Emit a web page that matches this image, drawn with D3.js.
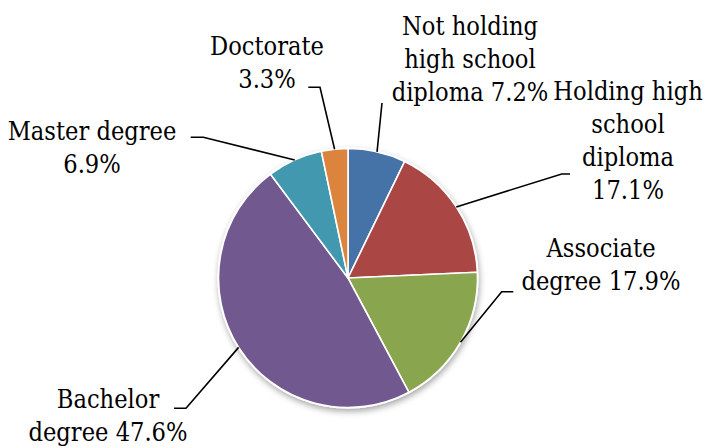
<!DOCTYPE html>
<html>
<head>
<meta charset="utf-8">
<script src="https://cdn.jsdelivr.net/npm/d3@7/dist/d3.min.js"></script>
<style>
  html, body { margin: 0; padding: 0; background: #fff; }
  svg { display: block; }
</style>
</head>
<body>
<svg id="chart" width="708" height="448"></svg>
<script>
// Education level shares (percent)
const categories = [
  "Not holding high school diploma",
  "Holding high school diploma",
  "Associate degree",
  "Bachelor degree",
  "Master degree",
  "Doctorate"
];
const values = [7.2, 17.1, 17.9, 47.6, 6.9, 3.3];
const colors = ["#4572A7", "#AA4643", "#89A54E", "#71588F", "#4198AF", "#DB843D"];

// Label text lines (value appended from the data)
const labelLines = [
  ["Not holding", "high school", "diploma " + values[0] + "%"],
  ["Holding high", "school", "diploma", values[1] + "%"],
  ["Associate", "degree " + values[2] + "%"],
  ["Bachelor", "degree " + values[3] + "%"],
  ["Master degree", values[4] + "%"],
  ["Doctorate", values[5] + "%"]
];

// Label placement: centre x, first baseline y
const labelPos = [
  [470, 35], [628, 100], [601, 257], [108, 408], [92, 140], [267, 55]
];
// Leader line start (at the label) and elbow point; the line ends on the slice edge
const leaderStart = [
  [[382, 103], [382, 103]],
  [[570, 174], [561.7, 174]],
  [[513.3, 291.7], [501.7, 291.7]],
  [[174, 408.3], [186, 408.3]],
  [[190.7, 137.3], [203.3, 137.3]],
  [[308.3, 87.3], [320, 87.3]]
];

const cx = 348, cy = 278, radius = 129.5, lineHeight = 33;
const fontFamily = "'DejaVu Serif Condensed', 'DejaVu Serif', serif";
const fontSize = 26;
const refWord = 114;   // rendered width of "Doctorate"

const svg = d3.select("#chart");

const defs = svg.append("defs");
const shadow = defs.append("filter").attr("id", "pieShadow")
  .attr("x", "-20%").attr("y", "-20%").attr("width", "140%").attr("height", "140%");
shadow.append("feDropShadow")
  .attr("dx", 1).attr("dy", 3).attr("stdDeviation", 3)
  .attr("flood-color", "#000").attr("flood-opacity", 0.35);

const pie = d3.pie().sort(null).value(d => d);
const arcs = pie(values);
const arc = d3.arc().innerRadius(0).outerRadius(radius);

const g = svg.append("g").attr("transform", `translate(${cx},${cy})`);

// backing disc carrying the soft shadow
g.append("circle").attr("r", radius + 1)
  .attr("fill", "#fff").attr("filter", "url(#pieShadow)");

g.selectAll("path.slice")
  .data(arcs)
  .join("path")
  .attr("class", "slice")
  .attr("d", arc)
  .attr("fill", (d, i) => colors[i])
  .attr("stroke", "#fff")
  .attr("stroke-width", 1.6)
  .attr("stroke-linejoin", "round");

// leader lines
const lineGen = d3.line();
arcs.forEach((d, i) => {
  const mid = (d.startAngle + d.endAngle) / 2;
  const edge = [cx + radius * Math.sin(mid), cy - radius * Math.cos(mid)];
  const pts = [leaderStart[i][0], leaderStart[i][1], edge];
  svg.append("path")
    .attr("d", lineGen(pts))
    .attr("fill", "none")
    .attr("stroke", "#000")
    .attr("stroke-width", 1.6);
});

// horizontal squeeze so the serif face runs as narrow as a Times-style face
const probe = svg.append("text")
  .attr("font-family", fontFamily).attr("font-size", fontSize)
  .text("Doctorate");
const sx = Math.min(1, refWord / probe.node().getComputedTextLength());
probe.remove();

// labels
labelLines.forEach((lines, i) => {
  const lg = svg.append("g")
    .attr("transform", `translate(${labelPos[i][0]},${labelPos[i][1]}) scale(${sx},1)`);
  const t = lg.append("text")
    .attr("text-anchor", "middle")
    .attr("font-family", fontFamily)
    .attr("font-size", fontSize)
    .attr("fill", "#000");
  lines.forEach((ln, k) => {
    t.append("tspan")
      .attr("x", 0)
      .attr("y", k * lineHeight)
      .text(ln);
  });
});
</script>
</body>
</html>
